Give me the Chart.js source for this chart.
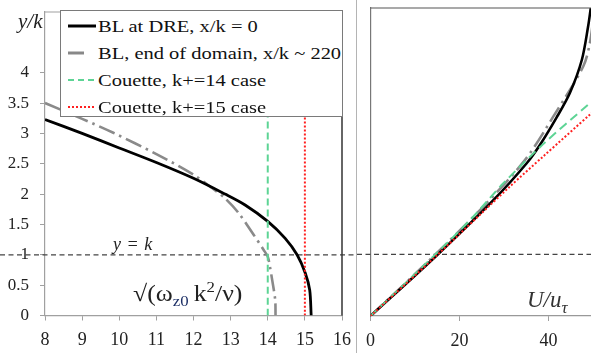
<!DOCTYPE html>
<html><head><meta charset="utf-8">
<script src="https://cdn.jsdelivr.net/npm/chart.js@4/dist/chart.umd.min.js"></script>
<style>
html,body{margin:0;padding:0;background:#fff;}
#wrap{position:relative;width:591px;height:353px;overflow:hidden;font-family:'Liberation Serif','Times New Roman',serif;color:#222;}
#c1{position:absolute;left:0;top:0;}
#c2{position:absolute;left:357px;top:0;}
.sep{position:absolute;left:356px;top:0;width:1px;height:353px;background:#b4b4b4;}
.legend{position:absolute;left:60px;top:10px;width:283px;height:107px;border:1px solid #7a7a7a;background:#fff;box-sizing:border-box;font-size:17.5px;color:#111;padding-top:1.5px;}
.row{height:27px;display:flex;align-items:center;white-space:nowrap;}
.row svg{margin-left:6px;margin-right:1px;flex:none;}
.row span{display:inline-block;transform:scaleX(1.17);transform-origin:left center;}
.txt{position:absolute;white-space:nowrap;line-height:1;transform-origin:left center;}
</style>
</head><body>
<div id="wrap">
<canvas id="c1" width="357" height="353"></canvas>
<canvas id="c2" width="243" height="353"></canvas>
<div class="sep"></div>
<div class="legend">
 <div class="row"><svg width="30" height="6"><line x1="1" y1="3" x2="29" y2="3" stroke="#000" stroke-width="3"/></svg><span>BL at DRE, x/k = 0</span></div>
 <div class="row"><svg width="30" height="6"><line x1="1" y1="3" x2="17" y2="3" stroke="#888" stroke-width="3"/></svg><span>BL, end of domain, x/k ~ 220</span></div>
 <div class="row"><svg width="30" height="6"><line x1="1" y1="3" x2="29" y2="3" stroke="#5dd495" stroke-width="2" stroke-dasharray="6,4"/></svg><span>Couette, k+=14 case</span></div>
 <div class="row"><svg width="30" height="6"><line x1="1" y1="3" x2="29" y2="3" stroke="#ff2020" stroke-width="2" stroke-dasharray="2,2"/></svg><span>Couette, k+=15 case</span></div>
</div>
<div class="txt" style="left:18px;top:11px;font-style:italic;font-size:21px;">y/k</div>
<div class="txt" style="left:113px;top:235px;font-style:italic;font-size:18px;word-spacing:1px;">y = k</div>
<div class="txt" style="left:133px;top:280px;font-size:23px;transform:scaleX(1.12);">√(ω<sub style="font-size:15px;color:#1c2f66;">z0</sub>&thinsp;k<sup style="font-size:15px;">2</sup>/ν)</div>
<div class="txt" style="left:527px;top:288px;font-style:italic;font-size:23px;color:#333;">U/u<sub style="font-size:17px;">τ</sub></div>
</div>
<script>
// ---- data ----
const yTicksLeft = [0, 0.5, 1, 1.5, 2, 2.5, 3, 3.5, 4];
const xTicksLeft = [8, 9, 10, 11, 12, 13, 14, 15, 16];
const xTicksRight = [0, 20, 40];

// left panel: sqrt(omega_z0 k^2/nu) vs y/k
const blDreOmega = [8, 9, 10, 11, 12, 12.85, 13.39, 14.0, 14.47, 14.79, 15.01, 15.13, 15.17];
const blDreYL    = [3.23, 3.0, 2.76, 2.52, 2.26, 2.0, 1.82, 1.55, 1.27, 1.0, 0.70, 0.42, 0];
const blEndOmega = [8, 9, 9.84, 11, 12, 12.5, 12.85, 13.2, 13.62, 13.89, 14.0, 14.06, 14.11, 14.2, 14.21];
const blEndYL    = [3.5, 3.24, 3.01, 2.66, 2.32, 2.1, 1.93, 1.7, 1.33, 1.08, 0.97, 0.8, 0.62, 0.26, 0];
const couette14Omega = [14, 14];
const couette15Omega = [15, 15];
const couetteYL = [0, 5];

// right panel: U/u_tau vs y/k
const blDreU  = [0, 14.7, 27.6, 35.1, 38.1, 41.8, 44.8, 47.5, 48.9, 49.5];
const blDreYR = [0, 0.97, 1.88, 2.48, 2.78, 3.22, 3.62, 4.16, 4.70, 5.0];
const blEndU  = [0, 12.6, 24.6, 34.7, 41.1, 47.8, 49.3, 50.2];
const blEndYR = [0, 0.86, 1.72, 2.53, 3.24, 4.05, 4.43, 4.9];
const c14U  = [0, 14.3, 22.4, 29.8, 38.8, 48.9, 50];
const c14YR = [0, 0.98, 1.56, 2.15, 2.79, 3.43, 3.5];
const c15U  = [0, 15, 31.3, 38.8, 49.6, 50];
const c15YR = [0, 0.99, 2.10, 2.59, 3.29, 3.32];

const refY = 1; // y = k

const zip = (xs, ys) => xs.map((x, i) => ({x: x, y: ys[i]}));
const FONT = "'Liberation Serif', 'Times New Roman', serif";

const refLine = {
  id: 'refLine',
  beforeDatasetsDraw(chart) {
    const y = chart.scales.y.getPixelForValue(refY);
    const ctx = chart.ctx;
    ctx.save();
    ctx.strokeStyle = '#444';
    ctx.lineWidth = 1.3;
    ctx.setLineDash([5, 3.5]);
    ctx.beginPath();
    ctx.moveTo(0, y);
    ctx.lineTo(chart.width, y);
    ctx.stroke();
    ctx.restore();
  }
};
const frame = {
  id: 'frame',
  afterDatasetsDraw(chart, args, opts) {
    const a = chart.chartArea, ctx = chart.ctx;
    ctx.save();
    ctx.lineWidth = 1.2;
    ctx.strokeStyle = opts.top;
    ctx.beginPath(); ctx.moveTo(a.left, a.top); ctx.lineTo(a.right, a.top); ctx.stroke();
    ctx.strokeStyle = opts.right;
    ctx.lineWidth = opts.rightWidth || 1.2;
    ctx.beginPath(); ctx.moveTo(a.right, a.top); ctx.lineTo(a.right, a.bottom); ctx.stroke();
    ctx.restore();
  }
};

function ds(data, color, width, dash, order) {
  return {data: data, borderColor: color, borderWidth: width, borderDash: dash,
    showLine: true, pointRadius: 0, fill: false, order: order, tension: 0.3};
}
const noPad = s => { s.paddingTop = 0; s.paddingBottom = 0; s.paddingLeft = 0; s.paddingRight = 0; };
const fmt = v => String(v);

new Chart(document.getElementById('c1'), {
  type: 'scatter',
  data: {datasets: [
    ds(zip(couette15Omega, couetteYL), '#ff2020', 2, [2, 2], 0),
    ds(zip(couette14Omega, couetteYL), '#5dd495', 2, [7, 4], 1),
    ds(zip(blDreOmega, blDreYL), '#000', 2.8, [], 2),
    ds(zip(blEndOmega, blEndYL), '#8a8a8a', 2.6, [17, 5, 2.5, 5], 3)
  ]},
  plugins: [refLine, frame],
  options: {
    responsive: false, animation: false,
    layout: {padding: {top: 12, right: 15, left: 0, bottom: 0}},
    plugins: {legend: {display: false}, tooltip: {enabled: false},
      frame: {top: '#a0a0a0', right: '#333', rightWidth: 1.5}},
    scales: {
      x: {type: 'linear', min: 8, max: 16,
        afterBuildTicks: ax => { ax.ticks = xTicksLeft.map(v => ({value: v})); },
        afterFit: s => { s.height = 37.5; noPad(s); },
        grid: {drawOnChartArea: false, tickLength: 5, color: '#a0a0a0'},
        border: {color: '#a0a0a0', width: 1.2},
        ticks: {font: {family: FONT, size: 18}, color: '#222', padding: 9, maxRotation: 0, callback: fmt}},
      y: {type: 'linear', min: 0, max: 5,
        afterBuildTicks: ax => { ax.ticks = yTicksLeft.map(v => ({value: v})); },
        afterFit: s => { s.width = 45; noPad(s); },
        grid: {drawOnChartArea: false, tickLength: 5, color: '#a0a0a0'},
        border: {color: '#a0a0a0', width: 1.2},
        ticks: {font: {family: FONT, size: 17}, color: '#222', padding: 11, callback: fmt}}
    }
  }
});

new Chart(document.getElementById('c2'), {
  type: 'scatter',
  data: {datasets: [
    ds(zip(c15U, c15YR), '#ff2020', 2, [2, 2], 0),
    ds(zip(c14U, c14YR), '#5dd495', 2, [9, 5], 1),
    ds(zip(blDreU, blDreYR), '#000', 2.6, [], 2),
    ds(zip(blEndU, blEndYR), '#8a8a8a', 2.6, [17, 5, 2.5, 5], 3)
  ]},
  plugins: [refLine, frame],
  options: {
    responsive: false, animation: false,
    layout: {padding: {top: 8, right: 7, left: 0, bottom: 0}},
    plugins: {legend: {display: false}, tooltip: {enabled: false},
      frame: {top: '#555', right: '#555'}},
    scales: {
      x: {type: 'linear', min: 0, max: 50,
        afterBuildTicks: ax => { ax.ticks = xTicksRight.map(v => ({value: v})); },
        afterFit: s => { s.height = 37; noPad(s); },
        grid: {drawOnChartArea: false, tickLength: 5, color: '#a0a0a0'},
        border: {color: '#999', width: 1.2},
        ticks: {font: {family: FONT, size: 18}, color: '#222', padding: 9, maxRotation: 0, callback: fmt}},
      y: {type: 'linear', min: 0, max: 5,
        afterFit: s => { s.width = 13.5; noPad(s); },
        grid: {display: false},
        border: {color: '#777', width: 1.2},
        ticks: {display: false}}
    }
  }
});
</script>
</body></html>
